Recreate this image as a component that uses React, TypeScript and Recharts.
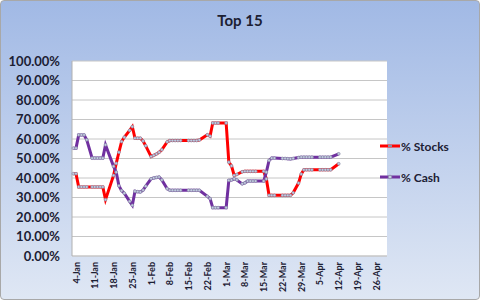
import * as React from "react";
import { LineChart, Line, XAxis, YAxis, CartesianGrid, Legend } from "recharts";

// day offsets from 4-Jan
const DAYS = [-1, 0, 1, 2, 3, 4, 6, 7, 8, 9, 10, 11, 14, 15, 16, 17, 18, 20, 21, 22, 23, 24, 25, 26,
  28, 29, 30, 31, 32, 34, 35, 36, 37, 38, 39, 42, 43, 44, 45, 46, 49, 50, 51, 52, 53, 56, 57, 58, 59, 60,
  62, 63, 64, 65, 66, 67, 70, 71, 72, 73, 74, 77, 78, 79, 80, 81, 83, 84, 85, 86, 87, 88, 91, 92, 93, 94, 95, 98];

const STOCKS = [42.2, 42.2, 35.4, 35.4, 35.4, 35.4, 35.4, 35.4, 35.4, 35.4, 35.4, 28.9, 41.3, 47.5, 53.2, 58.7, 60.9, 64.4, 66.3, 60.4, 60.4, 60.4, 59.0, 56.5,
  51.0, 51.6, 52.3, 53.2, 54.5, 58.5, 59.2, 59.2, 59.2, 59.2, 59.2, 59.2, 59.2, 59.2, 59.2, 59.5, 62.2, 61.4, 68.2, 68.2, 68.2, 68.2, 48.1, 46.2, 41.3, 41.8,
  43.2, 43.4, 43.4, 43.4, 43.4, 43.4, 43.4, 39.5, 31.1, 31.1, 31.1, 31.1, 31.1, 31.1, 31.1, 32.4, 37.4, 42.0, 44.2, 44.2, 44.2, 44.2, 44.2, 44.2, 44.2, 44.2, 44.2, 47.3];

const CASH = [55.3, 55.3, 62.1, 62.1, 62.1, 59.6, 50.2, 50.2, 50.2, 50.2, 50.2, 57.0, 46.0, 43.0, 36.0, 33.5, 32.2, 28.0, 26.0, 33.2, 33.0, 32.8, 33.8, 35.8,
  39.6, 40.0, 40.3, 40.5, 39.0, 34.5, 33.7, 33.7, 33.7, 33.7, 33.7, 33.7, 33.7, 33.7, 33.7, 33.7, 30.6, 29.4, 24.8, 24.8, 24.8, 24.8, 38.8, 39.0, 39.6, 39.0,
  37.0, 37.5, 38.4, 38.4, 38.4, 38.4, 38.4, 43.0, 49.0, 50.2, 50.2, 50.0, 50.0, 49.9, 49.8, 50.0, 50.5, 50.7, 50.7, 50.7, 50.7, 50.7, 50.7, 50.7, 50.7, 50.7, 50.7, 52.4];

const TICK_DAYS = [0, 7, 14, 21, 28, 35, 42, 49, 56, 63, 70, 77, 84, 91, 98, 105, 112];
const TICK_LABELS = ["4-Jan", "11-Jan", "18-Jan", "25-Jan", "1-Feb", "8-Feb", "15-Feb", "22-Feb",
  "1-Mar", "8-Mar", "15-Mar", "22-Mar", "29-Mar", "5-Apr", "12-Apr", "19-Apr", "26-Apr"];
const Y_TICKS = [0, 10, 20, 30, 40, 50, 60, 70, 80, 90, 100];

const data = DAYS.map((d, i) => ({ day: d, stocks: STOCKS[i], cash: CASH[i] }));

const FONT = "Lato, 'DejaVu Sans', sans-serif";
const TEXT = "#1c2033";
const RED = "#ff0000";
const PURPLE = "#7030a0";

const dot = { r: 1.4, fill: "#c3cbe2", stroke: "#8a8ca6", strokeWidth: 0.7 };

function XTick({ x, y, payload }: any) {
  const label = TICK_LABELS[TICK_DAYS.indexOf(payload.value)] ?? "";
  return (
    <text x={x} y={y} transform={`rotate(-90 ${x} ${y})`} textAnchor="end" dominantBaseline="central"
          fontFamily={FONT} fontSize={9} fontWeight={700} fill={TEXT}>{label}</text>
  );
}

function LegendBox() {
  const item = (label: string, colour: string, marker: React.ReactNode, top: number) => (
    <div style={{ position: "absolute", left: 0, top, height: 16, display: "flex", alignItems: "center" }}>
      <svg width={22} height={16}>
        <line x1={1} y1={8} x2={21} y2={8} stroke={colour} strokeWidth={3}/>
        {marker}
      </svg>
      <span style={{ fontFamily: FONT, fontSize: 12, fontWeight: 700, color: TEXT }}>{label}</span>
    </div>
  );
  return (
    <div style={{ position: "relative", width: 90, height: 50 }}>
      {item("% Stocks", RED, <rect x={9} y={7} width={4} height={2} fill="#8a8aa0"/>, 0)}
      {item("% Cash", PURPLE, <circle cx={11} cy={8} r={1.8} fill="#c3cbe2" stroke="#8a8ca6" strokeWidth={0.8}/>, 31)}
    </div>
  );
}

export default function App() {
  return (
    <div style={{
      position: "absolute", left: 0, top: 0, width: 480, height: 300, boxSizing: "border-box",
      border: "1px solid #a8a8a8", borderRadius: 4,
      background: "linear-gradient(to bottom, #a1b9e5, #dfe7f4)",
    }}>
      <LineChart width={478} height={298} data={data} margin={{ top: 60, right: 92, bottom: 8, left: 0 }}>
        <CartesianGrid vertical={false} fill="#ffffff" stroke="#c6c6c6" strokeWidth={1}/>
        <XAxis type="number" dataKey="day" domain={[-1.5, 116]} ticks={TICK_DAYS} interval={0}
               tick={<XTick/>} tickLine={false} tickSize={0} tickMargin={6} height={35}
               axisLine={{ stroke: "#c6c6c6" }}/>
        <YAxis domain={[0, 100]} ticks={Y_TICKS} interval={0} width={71}
               tickFormatter={(v: number) => v.toFixed(2) + "%"}
               tick={{ fontFamily: FONT, fontSize: 13, fontWeight: 700, fill: TEXT }}
               tickLine={false} tickSize={0} tickMargin={12} axisLine={{ stroke: "#b0b0b0" }}/>
        <Legend content={<LegendBox/>} layout="horizontal" verticalAlign="middle" align="center"
                wrapperStyle={{ left: 378, top: 137, width: 100 }}/>
        <Line type="linear" dataKey="stocks" name="% Stocks" stroke={RED} strokeWidth={3}
              dot={dot} isAnimationActive={false}/>
        <Line type="linear" dataKey="cash" name="% Cash" stroke={PURPLE} strokeWidth={3}
              dot={dot} isAnimationActive={false}/>
      </LineChart>
      <div style={{
        position: "absolute", left: 0, top: 9, width: 478, textAlign: "center",
        fontFamily: FONT, fontSize: 15, fontWeight: 700, color: TEXT, lineHeight: "20px",
      }}>Top 15</div>
    </div>
  );
}
